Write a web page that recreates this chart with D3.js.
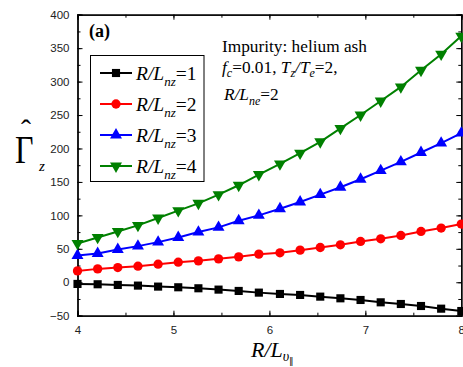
<!DOCTYPE html>
<html>
<head>
<meta charset="utf-8">
<script src="https://cdn.jsdelivr.net/npm/d3@7"></script>
<style>
  body { margin: 0; background: #fff; }
  svg { display: block; }
</style>
</head>
<body>
<div id="chart"></div>
<script>
// R/L_u values (x)
const xVals = [4.00, 4.21, 4.42, 4.63, 4.84, 5.05, 5.26, 5.47, 5.68, 5.89,
               6.11, 6.32, 6.53, 6.74, 6.95, 7.16, 7.37, 7.58, 7.79, 8.00];

const lnz1 = [-2.5, -3, -4, -5, -6.5, -7.5, -9, -11, -13, -15.5,
              -17.5, -19, -21.5, -24, -26.5, -30, -32.5, -35.5, -39.5, -43];
const lnz2 = [17, 20, 22, 24, 27, 30, 32, 35, 38, 42,
              44, 48, 52, 56, 61, 65, 70, 76, 81, 87];
const lnz3 = [40, 43, 49, 54, 60, 67, 75, 82, 92, 100,
              110, 120, 131, 142, 154, 167, 180, 194, 208, 223];
const lnz4 = [58, 67, 76, 85, 96, 107, 118, 131, 145, 161,
              177, 193, 210, 230, 250, 271, 292, 317, 341, 368];

const seriesLabels = ['1', '2', '3', '4'];
const xTicks = [4, 5, 6, 7, 8];
const yTicks = [-50, 0, 50, 100, 150, 200, 250, 300, 350, 400];

const SERIF = '"Liberation Serif", "Times New Roman", Times, serif';
const SANS = '"Liberation Sans", Arial, sans-serif';

const width = 463, height = 367;
const margin = { top: 14.7, right: 1.7, bottom: 51.3, left: 77.5 };

const svg = d3.select('#chart').append('svg')
  .attr('width', width)
  .attr('height', height);

const x = d3.scaleLinear().domain([4, 8]).range([margin.left, width - margin.right]);
const y = d3.scaleLinear().domain([-50, 400]).range([height - margin.bottom, margin.top]);

// minor ticks halfway between majors
const xMinor = d3.range(4, 8.01, 0.5);
const yMinor = d3.range(-50, 400.1, 25);

function styleAxis(g) {
  g.select('.domain').attr('stroke', '#000').attr('stroke-width', 1.3);
  g.selectAll('.tick line').attr('stroke', '#000').attr('stroke-width', 1);
  g.selectAll('.tick text')
    .style('font-family', SANS)
    .style('font-size', '11.5px')
    .attr('fill', '#222');
}

// bottom
svg.append('g')
  .attr('transform', `translate(0,${y(-50)})`)
  .call(d3.axisBottom(x).tickValues(xMinor).tickSize(-3).tickFormat(''))
  .call(styleAxis);
svg.append('g')
  .attr('transform', `translate(0,${y(-50)})`)
  .call(d3.axisBottom(x).tickValues(xTicks).tickSize(-5).tickPadding(10).tickFormat(d3.format('d')))
  .call(styleAxis);
// top
svg.append('g')
  .attr('transform', `translate(0,${y(400)})`)
  .call(d3.axisTop(x).tickValues(xMinor).tickSize(-3).tickFormat(''))
  .call(styleAxis);
svg.append('g')
  .attr('transform', `translate(0,${y(400)})`)
  .call(d3.axisTop(x).tickValues(xTicks).tickSize(-5).tickFormat(''))
  .call(styleAxis);
// left
svg.append('g')
  .attr('transform', `translate(${x(4)},0)`)
  .call(d3.axisLeft(y).tickValues(yMinor).tickSize(-3).tickFormat(''))
  .call(styleAxis);
svg.append('g')
  .attr('transform', `translate(${x(4)},0)`)
  .call(d3.axisLeft(y).tickValues(yTicks).tickSize(-5).tickPadding(8).tickFormat(d3.format('d')))
  .call(styleAxis);
// right
svg.append('g')
  .attr('transform', `translate(${x(8)},0)`)
  .call(d3.axisRight(y).tickValues(yMinor).tickSize(-3).tickFormat(''))
  .call(styleAxis);
svg.append('g')
  .attr('transform', `translate(${x(8)},0)`)
  .call(d3.axisRight(y).tickValues(yTicks).tickSize(-5).tickFormat(''))
  .call(styleAxis);

const series = [
  { vals: lnz1, color: '#000000', symbol: d3.symbolSquare, size: 66, rot: 0 },
  { vals: lnz2, color: '#ff0000', symbol: d3.symbolCircle, size: 68, rot: 0 },
  { vals: lnz3, color: '#0000ff', symbol: d3.symbolTriangle, size: 62, rot: 0 },
  { vals: lnz4, color: '#008000', symbol: d3.symbolTriangle, size: 62, rot: 180 }
];

const line = d3.line()
  .x((d, i) => x(xVals[i]))
  .y(d => y(d));

series.forEach(s => {
  svg.append('path')
    .attr('d', line(s.vals))
    .attr('fill', 'none')
    .attr('stroke', s.color)
    .attr('stroke-width', 2);

  svg.selectAll(null)
    .data(s.vals)
    .join('path')
    .attr('d', d3.symbol().type(s.symbol).size(s.size))
    .attr('transform', (d, i) => `translate(${x(xVals[i])},${y(d)}) rotate(${s.rot})`)
    .attr('fill', s.color);
});

function serifText(px, py, size) {
  return svg.append('text')
    .attr('x', px).attr('y', py)
    .style('font-family', SERIF)
    .style('font-size', size + 'px');
}

// legend
svg.append('rect')
  .attr('x', 90.5).attr('y', 55.5)
  .attr('width', 113.5).attr('height', 126)
  .attr('fill', '#fff')
  .attr('stroke', '#000')
  .attr('stroke-width', 1);

series.forEach((s, i) => {
  const ly = 73 + i * 31;
  svg.append('line')
    .attr('x1', 100).attr('x2', 132)
    .attr('y1', ly).attr('y2', ly)
    .attr('stroke', s.color).attr('stroke-width', 2);
  svg.append('path')
    .attr('d', d3.symbol().type(s.symbol).size(s.size))
    .attr('transform', `translate(116,${ly}) rotate(${s.rot})`)
    .attr('fill', s.color);
  const t = serifText(136, ly + 6.5, 19.5);
  t.append('tspan').style('font-style', 'italic').text('R/L');
  t.append('tspan').style('font-style', 'italic').style('font-size', '13px').attr('dy', 6).text('nz');
  t.append('tspan').attr('dy', -6).text('=' + seriesLabels[i]);
});

// panel label
serifText(89, 37, 18)
  .style('font-weight', 'bold')
  .text('(a)');

// annotation
serifText(222, 52, 17.3).text('Impurity: helium ash');

const a2 = serifText(222, 73, 17.3);
a2.append('tspan').style('font-style', 'italic').text('f');
a2.append('tspan').style('font-style', 'italic').style('font-size', '12px').attr('dy', 4).text('c');
a2.append('tspan').attr('dy', -4).text('=0.01, ');
a2.append('tspan').style('font-style', 'italic').text('T');
a2.append('tspan').style('font-style', 'italic').style('font-size', '12px').attr('dy', 4).text('z');
a2.append('tspan').attr('dy', -4).style('font-style', 'italic').text('/T');
a2.append('tspan').style('font-style', 'italic').style('font-size', '12px').attr('dy', 4).text('e');
a2.append('tspan').attr('dy', -4).text('=2,');

const a3 = serifText(224, 100, 17.3);
a3.append('tspan').style('font-style', 'italic').text('R/L');
a3.append('tspan').style('font-style', 'italic').style('font-size', '12px').attr('dy', 5).text('ne');
a3.append('tspan').attr('dy', -5).text('=2');

// y axis label: hat over Gamma, subscript z
serifText(0, 0, 40)
  .attr('transform', 'translate(15,163) scale(0.8,1)')
  .text('Γ');
serifText(26, 140, 30)
  .attr('text-anchor', 'middle')
  .text('ˆ');
serifText(39, 171, 15)
  .style('font-style', 'italic')
  .text('z');

// x axis label
const xl = serifText(251, 357, 22);
xl.append('tspan').style('font-style', 'italic').text('R/L');
xl.append('tspan').style('font-style', 'italic').style('font-size', '14px').attr('dy', 4).text('υ');
xl.append('tspan').style('font-size', '9px').attr('dy', 3).text('∥');
</script>
</body>
</html>
